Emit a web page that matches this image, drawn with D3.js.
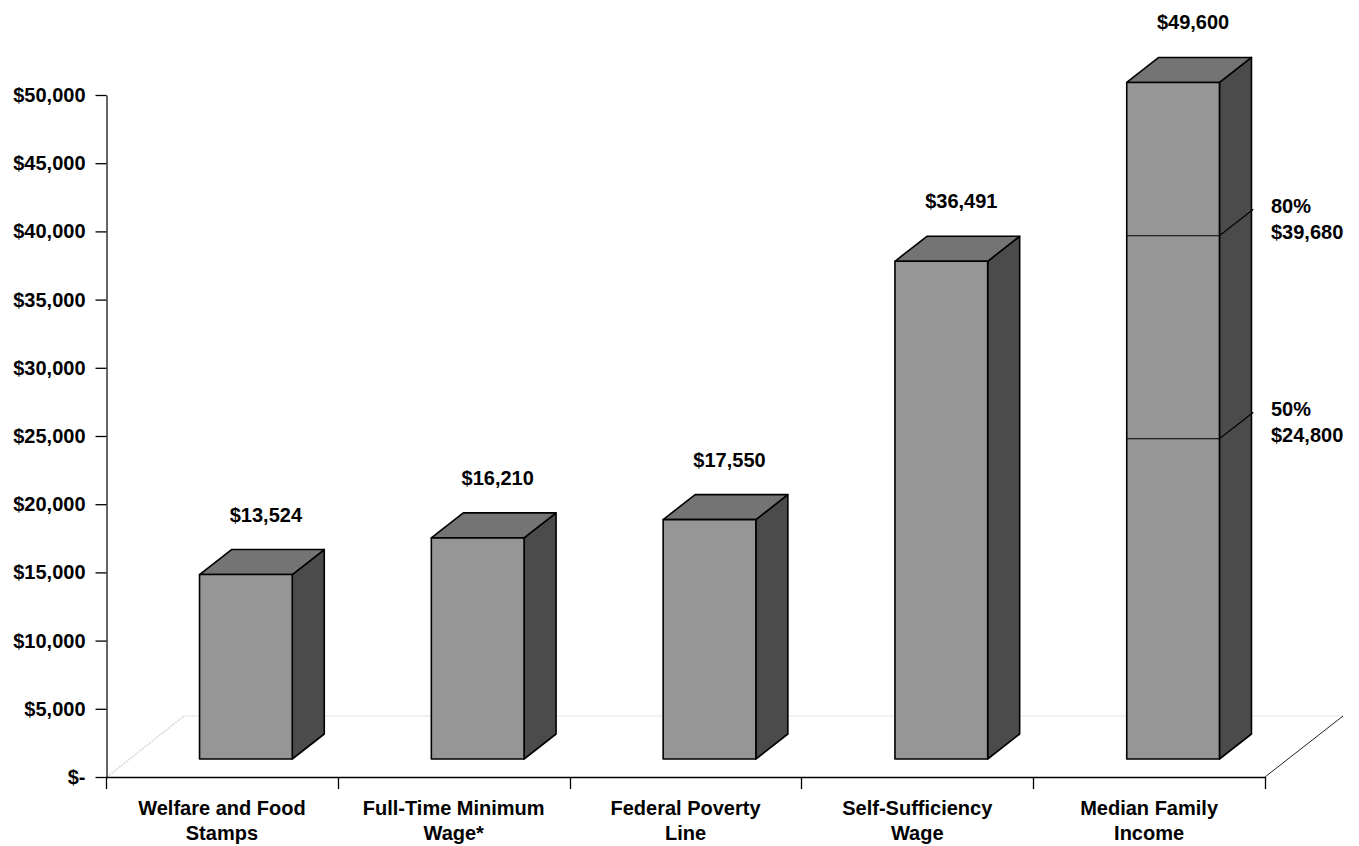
<!DOCTYPE html>
<html>
<head>
<meta charset="utf-8">
<script src="https://cdn.jsdelivr.net/npm/d3@7"></script>
<style>
  body { margin: 0; background: #fff; }
  text { font-family: "Liberation Sans", Arial, sans-serif; font-weight: bold; fill: #000; }
</style>
</head>
<body>
<script>
// chart data
const categories = ["Welfare and Food Stamps", "Full-Time Minimum Wage*", "Federal Poverty Line", "Self-Sufficiency Wage", "Median Family Income"];
const categoryLines = [["Welfare and Food", "Stamps"], ["Full-Time Minimum", "Wage*"], ["Federal Poverty", "Line"], ["Self-Sufficiency", "Wage"], ["Median Family", "Income"]];
const values = [13524, 16210, 17550, 36491, 49600];
const yTicks = [0, 5000, 10000, 15000, 20000, 25000, 30000, 35000, 40000, 45000, 50000];
const markerLabels = ["80%", "50%"];
const markerValues = [39680, 24800];

const W = 1359, H = 846;
const svg = d3.select("body").append("svg").attr("width", W).attr("height", H);

const y = d3.scaleLinear().domain([0, 50000]).range([777, 95]);
const x = d3.scaleBand().domain(categories).range([106, 1265]);

const barW = x.bandwidth() * 0.4;
const off = {dx: 24, dy: -18};     // bar front face pushed into the floor
const dd = {dx: 32, dy: -25};      // bar depth
const floorD = {dx: 78, dy: -61};  // floor depth

const money = v => v === 0 ? "$-" : "$" + d3.format(",")(v);

// floor edges
svg.append("line")
    .attr("x1", 106 + floorD.dx).attr("y1", y(0) + floorD.dy)
    .attr("x2", 1265 + floorD.dx).attr("y2", y(0) + floorD.dy)
    .attr("stroke", "#ececec").attr("stroke-width", 1.5);
svg.append("line")
    .attr("x1", 107).attr("y1", y(0))
    .attr("x2", 106 + floorD.dx).attr("y2", y(0) + floorD.dy)
    .attr("stroke", "#d8d8d8").attr("stroke-width", 1.5).attr("stroke-dasharray", "2,1");
svg.append("line")
    .attr("x1", 1265).attr("y1", y(0))
    .attr("x2", 1265 + floorD.dx).attr("y2", y(0) + floorD.dy)
    .attr("stroke", "#222").attr("stroke-width", 1);

// y axis
const yAxis = svg.append("g")
    .attr("transform", "translate(106.5,0)")
    .call(d3.axisLeft(y).tickValues(yTicks).tickSizeInner(11).tickSizeOuter(0).tickPadding(10).tickFormat(money));
yAxis.select(".domain").attr("stroke", "#333").attr("stroke-width", 1.5);
yAxis.selectAll(".tick line").attr("stroke", "#000").attr("stroke-width", 1.3);
yAxis.selectAll("text")
    .attr("font-size", 20).attr("font-family", "Liberation Sans, Arial, sans-serif")
    .attr("font-weight", "bold").attr("fill", "#000");

// x axis
const xg = svg.append("g");
xg.append("line")
    .attr("x1", 106).attr("x2", 1265).attr("y1", y(0) + 0.5).attr("y2", y(0) + 0.5)
    .attr("stroke", "#000").attr("stroke-width", 1.5);
const edges = categories.map(c => x(c)).concat([x.range()[1]]);
xg.selectAll("line.tk").data(edges).join("line")
    .attr("class", "tk")
    .attr("x1", d => Math.round(d) + 0.5).attr("x2", d => Math.round(d) + 0.5)
    .attr("y1", y(0)).attr("y2", y(0) + 12)
    .attr("stroke", "#000").attr("stroke-width", 1.3);

xg.selectAll("text.cat").data(categories).join("text")
    .attr("class", "cat")
    .attr("text-anchor", "middle")
    .attr("font-size", 20)
    .attr("x", c => x(c) + x.bandwidth() / 2)
    .attr("y", 815)
    .selectAll("tspan").data((c, i) => categoryLines[i]).join("tspan")
    .attr("x", function() { return d3.select(this.parentNode).attr("x"); })
    .attr("dy", (d, i) => i === 0 ? 0 : 25)
    .text(d => d);

// bars
const bars = svg.selectAll("g.bar").data(values).join("g").attr("class", "bar");
bars.each(function(v, i) {
    const g = d3.select(this);
    const x0 = x(categories[i]) + x.bandwidth() / 2 - barW / 2 + off.dx;
    const x1 = x0 + barW;
    const yb = y(0) + off.dy;
    const yt = y(v) + off.dy;
    const st = s => s.attr("stroke", "#000").attr("stroke-width", 1.6).attr("stroke-linejoin", "round");
    st(g.append("polygon")
        .attr("points", [[x1, yt], [x1 + dd.dx, yt + dd.dy], [x1 + dd.dx, yb + dd.dy], [x1, yb]].join(" "))
        .attr("fill", "#4b4b4b"));
    st(g.append("polygon")
        .attr("points", [[x0, yt], [x1, yt], [x1 + dd.dx, yt + dd.dy], [x0 + dd.dx, yt + dd.dy]].join(" "))
        .attr("fill", "#747474"));
    st(g.append("rect")
        .attr("x", x0).attr("y", yt).attr("width", barW).attr("height", yb - yt)
        .attr("fill", "#969696"));
    g.append("text")
        .attr("text-anchor", "middle").attr("font-size", 20)
        .attr("x", x0 + barW / 2 + 20)
        .attr("y", yt - 60 + 7)
        .text(money(v));
});

// 80% / 50% markers on the last bar
const lastI = categories.length - 1;
const mx0 = x(categories[lastI]) + x.bandwidth() / 2 - barW / 2 + off.dx;
const mx1 = mx0 + barW;
markerValues.forEach((m, k) => {
    const ym = y(m);
    svg.append("polyline")
        .attr("points", [[mx0, ym], [mx1, ym], [mx1 + dd.dx * 1.06, ym + dd.dy * 1.06]].join(" "))
        .attr("fill", "none").attr("stroke", "#000").attr("stroke-width", 1.2);
    svg.append("text").attr("font-size", 20).attr("x", 1271).attr("y", ym - 23).text(markerLabels[k]);
    svg.append("text").attr("font-size", 20).attr("x", 1271).attr("y", ym + 3).text(money(m));
});
</script>
</body>
</html>
